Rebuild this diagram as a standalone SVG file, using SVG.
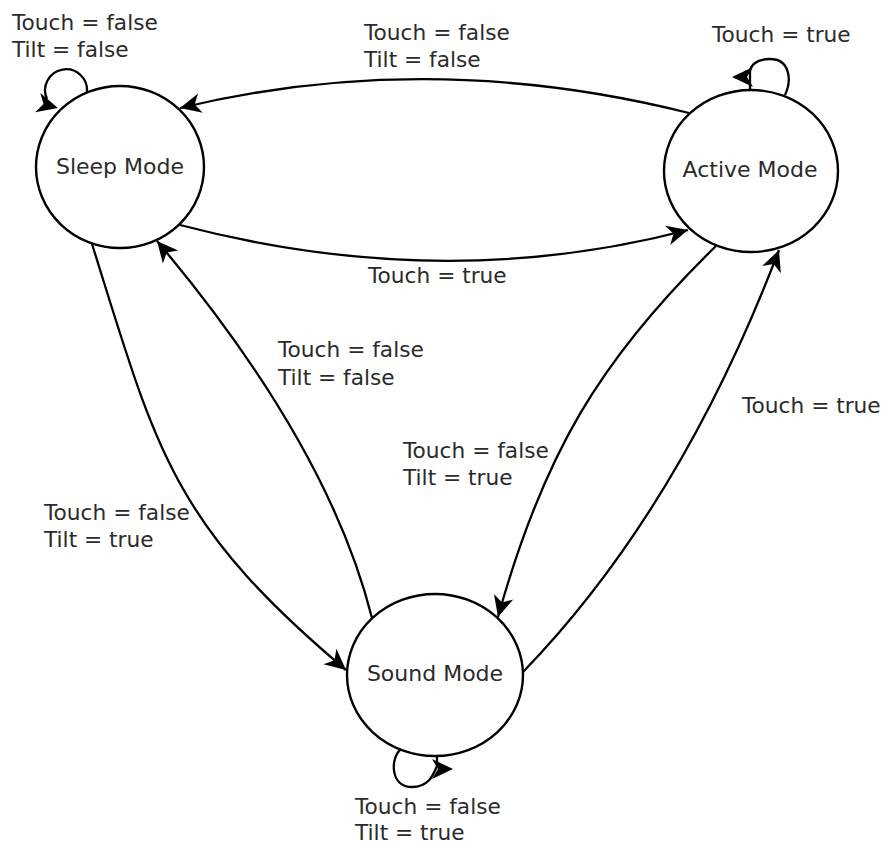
<svg xmlns="http://www.w3.org/2000/svg" xmlns:xlink="http://www.w3.org/1999/xlink" width="885" height="845" viewBox="0 0 885 845">
  <style>
    .node { fill: #ffffff; stroke: #000000; stroke-width: 2.4; }
    .edge { fill: none; stroke: #000000; stroke-width: 2.3; }
    .head { fill: #000000; stroke: none; }
    text { font-family: "DejaVu Sans", "Liberation Sans", sans-serif; font-size: 21.7px; fill: #2b2b2b; }
    .nlabel { text-anchor: middle; font-size: 22px; }
  </style>
  <defs>
    <path id="ah" d="M0,0 L-21,-10 L-15,0 L-21,10 Z"/>
    <marker id="arr" viewBox="-22 -11 23 22" refX="0" refY="0" markerWidth="23" markerHeight="22" markerUnits="userSpaceOnUse" orient="auto">
      <path class="head" d="M0,0 L-21,-10 L-15,0 L-21,10 Z"/>
    </marker>
  </defs>
  <rect width="885" height="845" fill="#ffffff"/>

  <g id="connectors">
    <!-- Active -> Sleep -->
    <path class="edge" d="M689,113 Q430,48 180,108" marker-end="url(#arr)"/>
    <!-- Sleep -> Active -->
    <path class="edge" d="M180,225 Q443,294 688,230" marker-end="url(#arr)"/>
    <!-- Sleep -> Sound -->
    <path class="edge" d="M92,244 C156,448 170,522 346,670" marker-end="url(#arr)"/>
    <!-- Sound -> Sleep -->
    <path class="edge" d="M372,618 C334,467 232,330 157,241" marker-end="url(#arr)"/>
    <!-- Active -> Sound -->
    <path class="edge" d="M716,246 C600,359 543,455 498,617" marker-end="url(#arr)"/>
    <!-- Sound -> Active -->
    <path class="edge" d="M523,672 C639,552 721,402 779,250" marker-end="url(#arr)"/>
    <!-- Sleep self loop -->
    <path class="edge" d="M87,92 A21,21 0 1 0 47,99"/>
    <use href="#ah" class="head" transform="translate(58,108) rotate(15)"/>
    <!-- Active self loop -->
    <path class="edge" d="M785,95 C792,80 790,59 770,59 C756,59 750,66 750,72 L750,90"/>
    <use href="#ah" class="head" transform="translate(732,77) rotate(180)"/>
    <!-- Sound self loop -->
    <path class="edge" d="M401,749 C390,758 390,787 412,787 C428,787 433,776 437,766 L437,757"/>
    <use href="#ah" class="head" transform="translate(453,769)"/>
  </g>

  <g id="sleep">
    <ellipse class="node" cx="120" cy="167" rx="84" ry="81"/>
    <text class="nlabel" x="120" y="174">Sleep Mode</text>
  </g>
  <g id="active">
    <ellipse class="node" cx="751" cy="171" rx="87" ry="81"/>
    <text class="nlabel" x="750" y="177">Active Mode</text>
  </g>
  <g id="sound">
    <ellipse class="node" cx="435" cy="675" rx="88" ry="81"/>
    <text class="nlabel" x="435" y="681">Sound Mode</text>
  </g>

  <g id="labels">
    <text x="12" y="30">Touch = false</text>
    <text x="12" y="57">Tilt = false</text>
    <text x="364" y="40">Touch = false</text>
    <text x="364" y="67">Tilt = false</text>
    <text x="712" y="42">Touch = true</text>
    <text x="368" y="283">Touch = true</text>
    <text x="278" y="357">Touch = false</text>
    <text x="278" y="385">Tilt = false</text>
    <text x="403" y="458">Touch = false</text>
    <text x="403" y="485">Tilt = true</text>
    <text x="44" y="520">Touch = false</text>
    <text x="44" y="547">Tilt = true</text>
    <text x="742" y="413">Touch = true</text>
    <text x="355" y="814">Touch = false</text>
    <text x="355" y="840">Tilt = true</text>
  </g>
</svg>
